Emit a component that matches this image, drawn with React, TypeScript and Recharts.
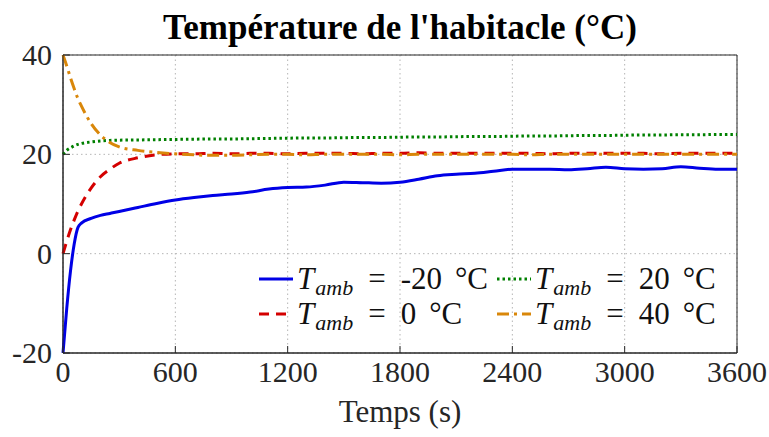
import { CartesianGrid, Line, LineChart, ReferenceArea, XAxis, YAxis } from 'recharts';

const times = [
  0, 20, 40, 60, 80, 100, 150, 200, 250, 300, 400, 500, 600, 700, 800, 900, 1000, 1100, 1200, 1300, 1400,
  1500, 1600, 1700, 1800, 1900, 2000, 2100, 2200, 2300, 2400, 2500, 2600, 2700, 2800, 2900, 3000, 3100,
  3200, 3300, 3400, 3500, 3600,
];

const tempM20 = [
  -20, -11, -3.5, 2, 5.3, 6.2, 7.1, 7.7, 8.1, 8.5, 9.3, 10.1, 10.8, 11.3, 11.7, 12.0, 12.4, 13.0, 13.3, 13.4,
  13.8, 14.4, 14.3, 14.2, 14.4, 15.0, 15.7, 16.0, 16.2, 16.6, 17.0, 17.0, 17.0, 16.9, 17.1, 17.4, 17.1, 17.0,
  17.1, 17.5, 17.2, 17.0, 17.0,
];

const temp0 = [
  0, 2.5, 4.8, 6.8, 8.6, 10.1, 13.2, 15.5, 17.0, 18.2, 19.3, 19.9, 20.1, 20.1, 20.2, 20.1, 20.2, 20.2, 20.1,
  20.2, 20.2, 20.2, 20.1, 20.2, 20.2, 20.3, 20.2, 20.2, 20.2, 20.2, 20.2, 20.2, 20.1, 20.2, 20.2, 20.2, 20.2,
  20.2, 20.1, 20.2, 20.2, 20.2, 20.2,
];

const temp20 = [
  20, 20.8, 21.3, 21.7, 22.0, 22.2, 22.5, 22.7, 22.8, 22.85, 22.9, 22.95, 23.0, 23.05, 23.1, 23.1, 23.15, 23.2,
  23.25, 23.3, 23.3, 23.35, 23.4, 23.4, 23.45, 23.5, 23.5, 23.55, 23.6, 23.6, 23.65, 23.7, 23.7, 23.75, 23.8,
  23.8, 23.85, 23.9, 23.9, 23.95, 23.95, 24.0, 24.0,
];

const temp40 = [
  40, 37.8, 35.4, 33.2, 31.2, 29.6, 26.2, 23.9, 22.4, 21.5, 20.8, 20.4, 20.1, 19.9, 19.8, 19.8, 19.9, 20.0,
  20.0, 19.9, 20.0, 20.0, 20.0, 20.0, 19.9, 20.0, 20.0, 20.0, 20.0, 20.0, 20.0, 19.9, 20.0, 20.0, 20.0, 20.0,
  20.0, 20.0, 20.0, 20.0, 20.0, 20.0, 20.0,
];

const xTicks = [0, 600, 1200, 1800, 2400, 3000, 3600];
const yTicks = [-20, 0, 20, 40];

const series = [
  { key: 'm20', label: '-20', color: '#0000e6', dash: undefined, width: 3 },
  { key: 't0', label: '0', color: '#d40000', dash: '10 7', width: 3 },
  { key: 't20', label: '20', color: '#008000', dash: '2.5 3', width: 3 },
  { key: 't40', label: '40', color: '#d9870a', dash: '12 5 3 5', width: 3 },
];

const data = times.map((t, i) => ({ t, m20: tempM20[i], t0: temp0[i], t20: temp20[i], t40: temp40[i] }));

const axisColor = '#262626';
const serif = '"Liberation Serif", "Times New Roman", serif';

const XTick = (props: any) => {
  const { x, y, payload } = props;
  const axisY = y - 8;
  return (
    <g>
      <line x1={x} x2={x} y1={axisY} y2={axisY - 7} stroke={axisColor} strokeWidth={1} />
      <text x={x} y={y} dy={21} textAnchor="middle" fill={axisColor} fontFamily={serif} fontSize={30}>
        {payload.value}
      </text>
    </g>
  );
};

const YTick = (props: any) => {
  const { x, y, payload } = props;
  const axisX = x + 11;
  return (
    <g>
      <line x1={axisX} x2={axisX + 7} y1={y} y2={y} stroke={axisColor} strokeWidth={1} />
      <text x={x} y={y} dy={10} textAnchor="end" fill={axisColor} fontFamily={serif} fontSize={30}>
        {payload.value}
      </text>
    </g>
  );
};

const Sample = ({ color, dash, width }: { color: string; dash?: string; width: number }) => (
  <svg width={34} height={10} style={{ marginRight: 4 }}>
    <line x1={0} x2={34} y1={5} y2={5} stroke={color} strokeWidth={width} strokeDasharray={dash} />
  </svg>
);

const LegendBox = () => (
  <div
    style={{
      position: 'absolute',
      left: 259,
      top: 261,
      display: 'grid',
      gridTemplateColumns: '238px 240px',
      rowGap: 0,
      fontFamily: serif,
      fontSize: 31,
      color: '#111',
      lineHeight: '35px',
    }}
  >
    {[series[0], series[2], series[1], series[3]].map((s) => (
      <div key={s.key} style={{ display: 'flex', alignItems: 'center', whiteSpace: 'nowrap', height: 35 }}>
        <Sample color={s.color} dash={s.dash} width={s.width} />
        <span>
          <i>T</i>
          <sub style={{ fontSize: 22, fontStyle: 'italic', verticalAlign: -6, marginLeft: 1, lineHeight: 0 }}>amb</sub>
          <span style={{ margin: '0 15px' }}>=</span>
          {s.label}
          <span style={{ marginLeft: 13 }}>°C</span>
        </span>
      </div>
    ))}
  </div>
);

export default function App() {
  return (
    <div style={{ position: 'absolute', left: 0, top: 0, width: 769, height: 437, background: '#fff' }}>
      <div
        style={{
          position: 'absolute',
          left: 63,
          width: 674,
          top: 8,
          textAlign: 'center',
          fontFamily: serif,
          fontWeight: 'bold',
          fontSize: 35,
          color: '#000',
        }}
      >
        Température de l'habitacle (°C)
      </div>
      <LineChart width={769} height={437} data={data} margin={{ top: 55, right: 32, bottom: 0, left: 0 }}>
        <CartesianGrid stroke="#b5b5b5" strokeDasharray="1.5 3" />
        <XAxis
          dataKey="t"
          type="number"
          domain={[0, 3600]}
          ticks={xTicks}
          tickLine={false}
          tickSize={0}
          tickMargin={8}
          stroke={axisColor}
          tick={<XTick />}
          interval={0}
          height={84}
          label={{ value: 'Temps (s)', position: 'insideBottom', offset: 15, fill: axisColor, fontSize: 31, fontFamily: serif }}
        />
        <YAxis
          type="number"
          domain={[-20, 40]}
          ticks={yTicks}
          width={63}
          tickLine={false}
          tickSize={0}
          tickMargin={11}
          stroke={axisColor}
          tick={<YTick />}
          interval={0}
        />
        <ReferenceArea x1={0} x2={3600} y1={-20} y2={40} fill="none" stroke={axisColor} strokeWidth={1} ifOverflow="visible" />
        {series.map((s) => (
          <Line
            key={s.key}
            type="monotone"
            dataKey={s.key}
            stroke={s.color}
            strokeWidth={s.width}
            strokeDasharray={s.dash}
            dot={false}
            isAnimationActive={false}
          />
        ))}
      </LineChart>
      <LegendBox />
    </div>
  );
}
